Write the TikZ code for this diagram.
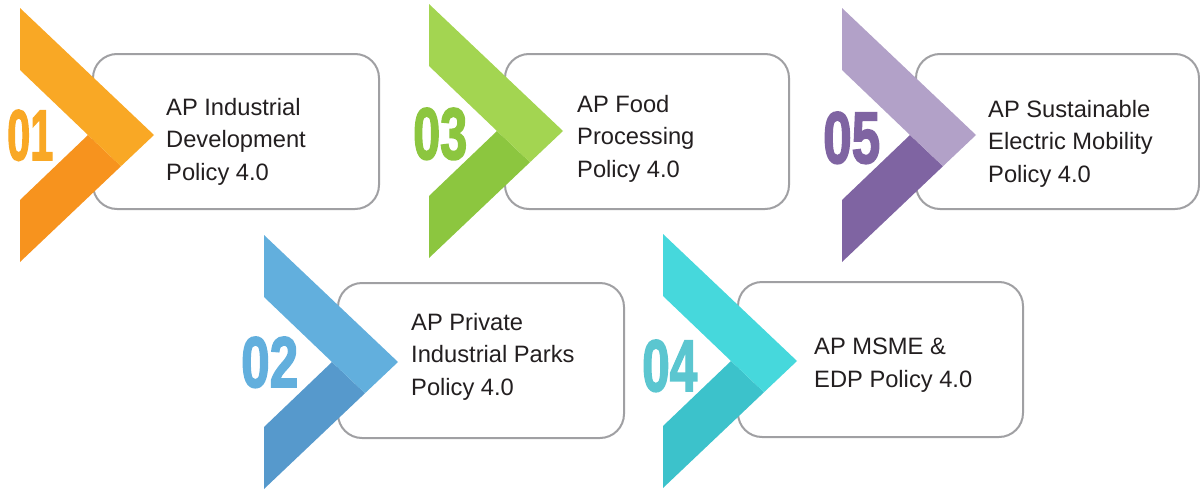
\documentclass[tikz,border=0pt]{standalone}
\usepackage{fontspec}
\usepackage{graphicx}
\setmainfont{Liberation Sans}
\newfontfamily\numfont[FakeBold=2.5]{Liberation Sans}
\definecolor{orgL}{HTML}{F9A825}
\definecolor{orgD}{HTML}{F7931E}
\definecolor{grnL}{HTML}{A3D551}
\definecolor{grnD}{HTML}{8CC63F}
\definecolor{prpL}{HTML}{B2A1C8}
\definecolor{prpD}{HTML}{7F64A2}
\definecolor{bluL}{HTML}{62AFDD}
\definecolor{bluD}{HTML}{5699CC}
\definecolor{tealL}{HTML}{46D8DC}
\definecolor{tealD}{HTML}{3CC2CB}
\definecolor{tealN}{HTML}{5BC6D0}
\definecolor{boxgray}{HTML}{A0A0A3}
\definecolor{txt}{HTML}{231F20}
\newcommand\chevronshape[4]{%
  \fill[#4] (#1,#2+192) -- (#1+68,#2+127) -- (#1+101,#2+158.2) -- (#1,#2+254) -- cycle;
  \fill[#3] (#1,#2) -- (#1+134,#2+127) -- (#1+101,#2+158.2) -- (#1+68,#2+127) -- (#1,#2+62) -- cycle;
}
\tikzset{
  policybox/.style={draw=boxgray, line width=2pt, fill=white, rounded corners=24pt,
    minimum width=286pt, minimum height=155pt, anchor=north west, inner sep=0pt},
  policytext/.style={anchor=base west, align=left, inner sep=0pt, text=txt,
    font=\fontsize{23.7}{32.5}\selectfont},
  numtext/.style={anchor=base west, inner sep=0pt, font=\numfont\bfseries}
}
\begin{document}
\begin{tikzpicture}[x=1pt,y=-1pt]
\useasboundingbox (0,0) rectangle (1200,490);
% boxes
\node[policybox] (b1) at (92,53) {};
\node[policybox, minimum width=284pt] (b3) at (504,53) {};
\node[policybox, minimum width=283pt] (b5) at (915,53) {};
\node[policybox] (b2) at (337,282) {};
\node[policybox, minimum width=285pt] (b4) at (737,281) {};
% chevrons
\chevronshape{20}{8}{orgL}{orgD}
\chevronshape{429}{4}{grnL}{grnD}
\chevronshape{842}{8}{prpL}{prpD}
\chevronshape{264}{235}{bluL}{bluD}
\chevronshape{663}{234}{tealL}{tealD}
% numbers
\node[numtext, text=orgL] (n1) at (7,160) {\resizebox{46pt}{50pt}{01}};
\node[numtext, text=grnD] (n3) at (413,159) {\resizebox{54pt}{51pt}{03}};
\node[numtext, text=prpD] (n5) at (823,163) {\resizebox{57pt}{51pt}{05}};
\node[numtext, text=bluL] (n2) at (241,387) {\resizebox{57pt}{50pt}{02}};
\node[numtext, text=tealN] (n4) at (642,391) {\resizebox{55pt}{51pt}{04}};
% texts (base anchor = baseline of last line)
\node[policytext] (t1) at (166,180) {AP Industrial\\Development\\Policy 4.0};
\node[policytext] (t3) at (577,177) {AP Food\\Processing\\Policy 4.0};
\node[policytext] (t5) at (988,182) {AP Sustainable\\Electric Mobility\\Policy 4.0};
\node[policytext] (t2) at (411,395) {AP Private\\Industrial Parks\\Policy 4.0};
\node[policytext] (t4) at (814,387) {AP MSME \&\\EDP Policy 4.0};
\end{tikzpicture}
\end{document}
